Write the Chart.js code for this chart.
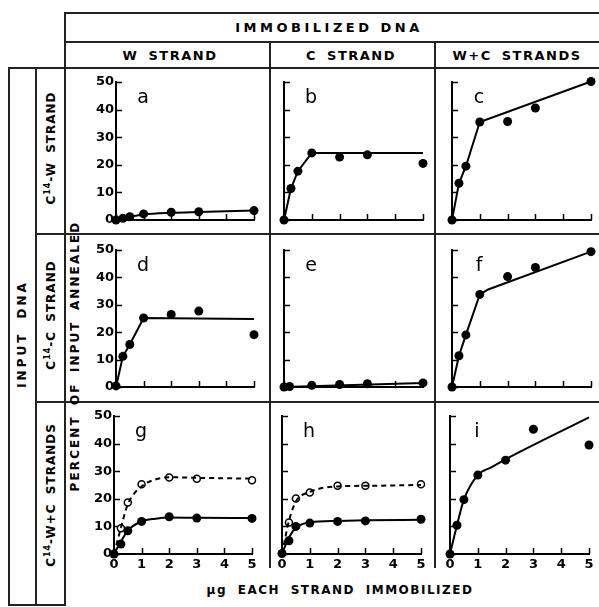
<!DOCTYPE html>
<html>
<head>
<meta charset="utf-8">
<script src="https://cdn.jsdelivr.net/npm/chart.js@4.4.0/dist/chart.umd.min.js"></script>
<style>
  body { margin: 0; background: #fff; }
  #fig { position: relative; width: 599px; height: 607px; overflow: hidden;
         font-family: "DejaVu Sans", sans-serif; font-weight: bold; color: #000; }
  .hl, .vl { position: absolute; background: #222; }
  .hl { height: 2px; }
  .vl { width: 2px; }
  .txt { position: absolute; white-space: nowrap; transform: translate(-50%, -50%); font-size: 12px; }
  .rot { transform: translate(-50%, -50%) rotate(-90deg); }
  .tag { position: absolute; font-weight: normal; font-size: 19px; transform: translate(-50%, -50%); }
  sup { font-size: 8px; vertical-align: 5px; }
  canvas { position: absolute; }
</style>
</head>
<body>
<div id="fig">
  <!-- table frame -->
  <div class="hl" style="left:64px; top:12px; width:535px"></div>
  <div class="hl" style="left:64px; top:41px; width:535px"></div>
  <div class="hl" style="left:8px; top:67px; width:591px"></div>
  <div class="hl" style="left:35px; top:233px; width:564px"></div>
  <div class="hl" style="left:35px; top:401px; width:564px"></div>
  <div class="hl" style="left:8px; top:604px; width:57px"></div>
  <div class="vl" style="left:8px; top:67px; height:539px"></div>
  <div class="vl" style="left:35px; top:67px; height:539px"></div>
  <div class="vl" style="left:64px; top:12px; height:594px"></div>
  <div class="vl" style="left:269px; top:41px; height:527px"></div>
  <div class="vl" style="left:434px; top:41px; height:527px"></div>

  <!-- headings -->
  <div class="txt" style="left:329px; top:27px; font-size:13px; letter-spacing:3.5px">IMMOBILIZED DNA</div>
  <div class="txt" style="left:170px; top:55px; font-size:13px; letter-spacing:1.5px; word-spacing:4px">W STRAND</div>
  <div class="txt" style="left:351px; top:55px; font-size:13px; letter-spacing:1.5px; word-spacing:4px">C STRAND</div>
  <div class="txt" style="left:517px; top:55px; font-size:13px; letter-spacing:1.5px; word-spacing:4px">W+C STRANDS</div>
  <div class="txt rot" style="left:22px; top:334px; letter-spacing:3px; word-spacing:6px">INPUT DNA</div>
  <div class="txt rot" style="left:50px; top:148px; letter-spacing:1px; word-spacing:4px">C<sup>14</sup>-W STRAND</div>
  <div class="txt rot" style="left:50px; top:315px; letter-spacing:1px; word-spacing:4px">C<sup>14</sup>-C STRAND</div>
  <div class="txt rot" style="left:50px; top:495px; letter-spacing:1px; word-spacing:4px">C<sup>14</sup>-W+C STRANDS</div>
  <div class="txt rot" style="left:75px; top:356px; letter-spacing:2.1px; word-spacing:4px">PERCENT OF INPUT ANNEALED</div>
  <div class="txt" style="left:340px; top:590px; letter-spacing:1.5px; word-spacing:5px">μg EACH STRAND IMMOBILIZED</div>
</div>

<script>
// x values, ug each strand immobilized
const doses = [0, 0.25, 0.5, 1, 2, 3, 5];
const dosesE = [0, 0.2, 1, 2, 3, 5];
const dosesOpen = [0.25, 0.5, 1, 2, 3, 5];

// measured points, percent of input annealed
const aPts = [0, 0.6, 1.2, 2.2, 2.8, 3.0, 3.4];
const bPts = [0, 11.4, 17.7, 24.3, 22.8, 23.6, 20.5];
const cPts = [0, 13.3, 19.5, 35.5, 35.7, 40.6, 50.2];
const dPts = [0.4, 11.2, 15.5, 25.2, 26.5, 27.7, 19.1];
const ePts = [0, 0.2, 0.6, 0.9, 1.2, 1.5];
const fPts = [0, 11.4, 19, 33.8, 40.3, 43.6, 49.4];
const gPts = [0, 3.6, 8.4, 11.8, 13.5, 13.0, 12.9];
const gOpen = [9.3, 18.7, 25.3, 27.7, 27.3, 26.7];
const hPts = [0.2, 4.8, 10, 11.2, 11.8, 12, 12.6];
const hOpen = [11.4, 20.1, 22.3, 24.7, 24.7, 25.3];
const iPts = [0, 10.4, 19.7, 28.6, 34, 45.2, 39.5];

// hand-drawn curves (knots)
const aFitX = [0, 0.25, 0.5, 1, 2, 3, 5];
const aFitY = [0, 0.6, 1.2, 2.0, 2.6, 2.9, 3.4];
const bFitX = [0, 0.25, 0.5, 1, 5];
const bFitY = [0, 11.4, 17.7, 24.3, 24.3];
const cFitX = [0, 0.25, 0.5, 1, 5];
const cFitY = [0, 13.3, 19.5, 35.5, 50.2];
const dFitX = [0, 0.25, 0.5, 1, 5];
const dFitY = [0, 11.2, 15.5, 25.2, 24.8];
const eFitX = [0, 5];
const eFitY = [0, 1.5];
const fFitX = [0, 0.25, 0.5, 1, 1.3, 5];
const fFitY = [0, 11.4, 19, 33.8, 35.6, 49.4];
const gFitX = [0, 0.25, 0.5, 1, 1.5, 2, 3, 5];
const gFitY = [0, 4.5, 8.5, 11.8, 12.8, 13.2, 13.1, 13.0];
const gDashX = [0, 0.25, 0.5, 1, 1.5, 2, 3, 5];
const gDashY = [0, 9.5, 18, 24.5, 27, 27.8, 27.6, 27.3];
const hFitX = [0, 0.25, 0.5, 1, 2, 3, 5];
const hFitY = [0, 6, 9.5, 11.5, 12, 12.2, 12.4];
const hDashX = [0, 0.25, 0.5, 1, 2, 3, 5];
const hDashY = [0, 12, 19, 22.5, 24.5, 24.7, 25];
const iFitX = [0, 0.25, 0.5, 1, 1.5, 2, 5];
const iFitY = [0, 10.4, 19.7, 28.6, 31.5, 34.3, 49.5];

// axis ranges
const xRange = [0, 5];
const yRange = [0, 50];

// panel placement (chart area edges in page px)
const colL = [116, 284, 452];
const colR = [254, 423, 591];
const rowT = [82, 250, 416];
const rowB = [220, 387, 554];
const rowShift = [0, 0, -2];

const pair = (xs, ys) => xs.map((v, i) => ({ x: v, y: ys[i] }));
const fit = (xs, ys, smooth, dash) => ({ kind: 'fit', data: pair(xs, ys), smooth, dash });
const pts = (xs, ys, open) => ({ kind: 'pts', data: pair(xs, ys), open });

const panels = [
  { letter: 'a', col: 0, row: 0, series: [fit(aFitX, aFitY, true), pts(doses, aPts)] },
  { letter: 'b', col: 1, row: 0, series: [fit(bFitX, bFitY), pts(doses, bPts)] },
  { letter: 'c', col: 2, row: 0, series: [fit(cFitX, cFitY), pts(doses, cPts)] },
  { letter: 'd', col: 0, row: 1, series: [fit(dFitX, dFitY), pts(doses, dPts)] },
  { letter: 'e', col: 1, row: 1, series: [fit(eFitX, eFitY), pts(dosesE, ePts)] },
  { letter: 'f', col: 2, row: 1, series: [fit(fFitX, fFitY), pts(doses, fPts)] },
  { letter: 'g', col: 0, row: 2, series: [fit(gDashX, gDashY, true, true), fit(gFitX, gFitY, true), pts(dosesOpen, gOpen, true), pts(doses, gPts)] },
  { letter: 'h', col: 1, row: 2, series: [fit(hDashX, hDashY, true, true), fit(hFitX, hFitY, true), pts(dosesOpen, hOpen, true), pts(doses, hPts)] },
  { letter: 'i', col: 2, row: 2, series: [fit(iFitX, iFitY, true), pts(doses, iPts)] }
];

// short tick marks pointing into the plot
const inwardTicks = {
  id: 'inwardTicks',
  beforeDatasetsDraw(chart) {
    const { ctx, chartArea: a, scales: { x, y } } = chart;
    ctx.save();
    ctx.strokeStyle = '#000';
    ctx.lineWidth = 1.5;
    ctx.beginPath();
    y.ticks.forEach(t => {
      const py = Math.round(y.getPixelForValue(t.value)) + 0.5;
      ctx.moveTo(a.left, py);
      ctx.lineTo(a.left + 6, py);
    });
    x.ticks.forEach(t => {
      const px = Math.round(x.getPixelForValue(t.value)) + 0.5;
      ctx.moveTo(px, a.bottom);
      ctx.lineTo(px, a.bottom - 6);
    });
    ctx.stroke();
    ctx.restore();
  }
};

const fig = document.getElementById('fig');
const tickFont = { family: 'DejaVu Sans', weight: 'bold', size: 13 };
const padL = 40, padR = 12, padT = 10, padB = 28;

function makePanel(p) {
  const L = colL[p.col] + rowShift[p.row];
  const R = colR[p.col] + rowShift[p.row];
  const T = rowT[p.row], B = rowB[p.row];

  const cv = document.createElement('canvas');
  cv.width = R - L + padL + padR;
  cv.height = B - T + padT + padB;
  cv.style.left = (L - padL) + 'px';
  cv.style.top = (T - padT) + 'px';
  fig.appendChild(cv);

  const tag = document.createElement('div');
  tag.className = 'tag';
  tag.textContent = p.letter;
  tag.style.left = (L + 27) + 'px';
  tag.style.top = (T + 14) + 'px';
  fig.appendChild(tag);

  const datasets = p.series.map(s => s.kind === 'fit' ? {
    data: s.data,
    showLine: true,
    borderColor: '#000',
    borderWidth: 2,
    borderDash: s.dash ? [5, 4] : [],
    pointRadius: 0,
    tension: s.smooth ? 0.4 : 0,
    cubicInterpolationMode: s.smooth ? 'monotone' : 'default',
    fill: false,
    clip: false
  } : {
    data: s.data,
    showLine: false,
    pointRadius: s.open ? 3.5 : 4.5,
    pointBackgroundColor: s.open ? '#fff' : '#000',
    pointBorderColor: '#000',
    pointBorderWidth: s.open ? 1.5 : 0,
    clip: false
  });

  new Chart(cv, {
    type: 'line',
    data: { datasets },
    plugins: [inwardTicks],
    options: {
      responsive: false,
      animation: false,
      events: [],
      devicePixelRatio: 1,
      layout: { padding: { left: 0, right: padR, top: padT, bottom: 0 } },
      plugins: { legend: { display: false }, tooltip: { enabled: false } },
      scales: {
        x: {
          type: 'linear', min: xRange[0], max: xRange[1],
          afterFit(s) { s.height = padB; },
          grid: { display: false, drawTicks: false },
          border: { display: true, color: '#000', width: 2 },
          ticks: { display: p.row === 2, stepSize: 1, color: '#000', font: tickFont, padding: 3, maxRotation: 0, autoSkip: false }
        },
        y: {
          min: yRange[0], max: yRange[1],
          afterFit(s) { s.width = padL; },
          grid: { display: false, drawTicks: false },
          border: { display: true, color: '#000', width: 2 },
          ticks: { display: p.col === 0, stepSize: 10, color: '#000', font: tickFont, padding: 2 }
        }
      }
    }
  });
}

panels.forEach(makePanel);
</script>
</body>
</html>
